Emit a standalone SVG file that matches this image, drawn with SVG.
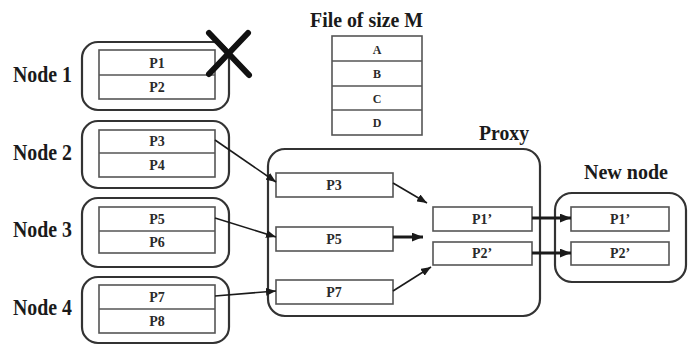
<svg xmlns="http://www.w3.org/2000/svg" width="691" height="345" viewBox="0 0 691 345">
  <defs>
    <marker id="head" viewBox="0 0 10 8" refX="10" refY="4" markerWidth="10" markerHeight="8" markerUnits="userSpaceOnUse" orient="auto">
      <path d="M0,0 L10,4 L0,8 Z" fill="#1a1a1a"/>
    </marker>
    <marker id="headBig" viewBox="0 0 10 8" refX="10" refY="4" markerWidth="11" markerHeight="9" markerUnits="userSpaceOnUse" orient="auto">
      <path d="M0,0 L10,4 L0,8 Z" fill="#1a1a1a"/>
    </marker>
  </defs>
  <style>
    .box { fill: #ffffff; stroke: #333333; stroke-width: 2.2; }
    .cell { fill: #ffffff; stroke: #555555; stroke-width: 1.6; }
    .div { stroke: #555555; stroke-width: 1.6; }
    .lbl { font-family: "Liberation Serif", "Times New Roman", serif; font-weight: bold; fill: #1a1a1a; }
    .big { font-size: 24px; }
    .small { font-size: 14px; text-anchor: middle; fill: #2a2a2a; }
    .wire { fill: none; stroke: #1a1a1a; stroke-width: 1.6; marker-end: url(#head); }
    .wire-thick { fill: none; stroke: #1a1a1a; stroke-width: 3; marker-end: url(#headBig); }
    .cross { stroke: #111111; stroke-width: 6; stroke-linecap: round; }
  </style>
  <rect width="691" height="345" fill="#ffffff"/>

  <!-- File of size M -->
  <g id="file">
    <text class="lbl" x="310" y="27" font-size="21" textLength="113" lengthAdjust="spacingAndGlyphs">File of size M</text>
    <rect class="cell" x="332" y="36" width="90" height="99"/>
    <line class="div" x1="332" y1="61" x2="422" y2="61"/>
    <line class="div" x1="332" y1="86" x2="422" y2="86"/>
    <line class="div" x1="332" y1="110" x2="422" y2="110"/>
    <text class="lbl small" x="377" y="54" style="font-size:12px">A</text>
    <text class="lbl small" x="377" y="78" style="font-size:12px">B</text>
    <text class="lbl small" x="377" y="103" style="font-size:12px">C</text>
    <text class="lbl small" x="377" y="127" style="font-size:12px">D</text>
  </g>

  <!-- Node 1 (failed) -->
  <g id="node1">
    <text class="lbl big" x="13" y="82" textLength="59" lengthAdjust="spacingAndGlyphs">Node 1</text>
    <rect class="box" x="82" y="42" width="147" height="68" rx="16"/>
    <rect class="cell" x="99" y="50" width="116" height="49"/>
    <line class="div" x1="99" y1="75" x2="215" y2="75"/>
    <text class="lbl small" x="157" y="68">P1</text>
    <text class="lbl small" x="157" y="92">P2</text>
    <line class="cross" x1="209" y1="33" x2="249" y2="75"/>
    <line class="cross" x1="248" y1="33" x2="209" y2="74"/>
  </g>

  <!-- Node 2 -->
  <g id="node2">
    <text class="lbl big" x="13" y="160" textLength="59" lengthAdjust="spacingAndGlyphs">Node 2</text>
    <rect class="box" x="82" y="121" width="147" height="67" rx="16"/>
    <rect class="cell" x="99" y="130" width="116" height="47"/>
    <line class="div" x1="99" y1="153" x2="215" y2="153"/>
    <text class="lbl small" x="157" y="146">P3</text>
    <text class="lbl small" x="157" y="170">P4</text>
  </g>

  <!-- Node 3 -->
  <g id="node3">
    <text class="lbl big" x="13" y="237" textLength="59" lengthAdjust="spacingAndGlyphs">Node 3</text>
    <rect class="box" x="82" y="198" width="147" height="69" rx="16"/>
    <rect class="cell" x="99" y="207" width="116" height="46"/>
    <line class="div" x1="99" y1="231" x2="215" y2="231"/>
    <text class="lbl small" x="157" y="224">P5</text>
    <text class="lbl small" x="157" y="247">P6</text>
  </g>

  <!-- Node 4 -->
  <g id="node4">
    <text class="lbl big" x="13" y="315" textLength="59" lengthAdjust="spacingAndGlyphs">Node 4</text>
    <rect class="box" x="82" y="277" width="147" height="66" rx="16"/>
    <rect class="cell" x="99" y="285" width="116" height="48"/>
    <line class="div" x1="99" y1="309" x2="215" y2="309"/>
    <text class="lbl small" x="157" y="302">P7</text>
    <text class="lbl small" x="157" y="326">P8</text>
  </g>

  <!-- Proxy -->
  <g id="proxy">
    <text class="lbl" x="479" y="140" font-size="22" textLength="50" lengthAdjust="spacingAndGlyphs">Proxy</text>
    <rect class="box" x="268" y="149" width="272" height="167" rx="17"/>
    <rect class="cell" x="276" y="173" width="117" height="24"/>
    <text class="lbl small" x="334" y="190">P3</text>
    <rect class="cell" x="276" y="227" width="117" height="24"/>
    <text class="lbl small" x="334" y="244">P5</text>
    <rect class="cell" x="276" y="280" width="117" height="24"/>
    <text class="lbl small" x="334" y="297">P7</text>
    <rect class="cell" x="433" y="207" width="99" height="24"/>
    <text class="lbl small" x="482" y="224">P1’</text>
    <rect class="cell" x="433" y="242" width="99" height="23"/>
    <text class="lbl small" x="482" y="258">P2’</text>
  </g>

  <!-- New node -->
  <g id="newnode">
    <text class="lbl" x="584" y="179" font-size="22" textLength="84" lengthAdjust="spacingAndGlyphs">New node</text>
    <rect class="box" x="555" y="193" width="131" height="89" rx="17"/>
    <rect class="cell" x="571" y="207" width="98" height="24"/>
    <text class="lbl small" x="620" y="224">P1’</text>
    <rect class="cell" x="571" y="242" width="98" height="23"/>
    <text class="lbl small" x="620" y="258">P2’</text>
  </g>

  <!-- Connectors -->
  <g id="connectors">
    <line class="wire" x1="215" y1="140" x2="276" y2="182"/>
    <line class="wire" x1="215" y1="218" x2="276" y2="237"/>
    <line class="wire" x1="215" y1="296" x2="276" y2="291"/>
    <line class="wire" x1="393" y1="183" x2="427" y2="203"/>
    <line class="wire-thick" x1="393" y1="237" x2="423" y2="237"/>
    <line class="wire" x1="393" y1="291" x2="431" y2="267"/>
    <line class="wire-thick" x1="532" y1="218" x2="571" y2="218"/>
    <line class="wire-thick" x1="532" y1="253" x2="571" y2="253"/>
  </g>
</svg>
